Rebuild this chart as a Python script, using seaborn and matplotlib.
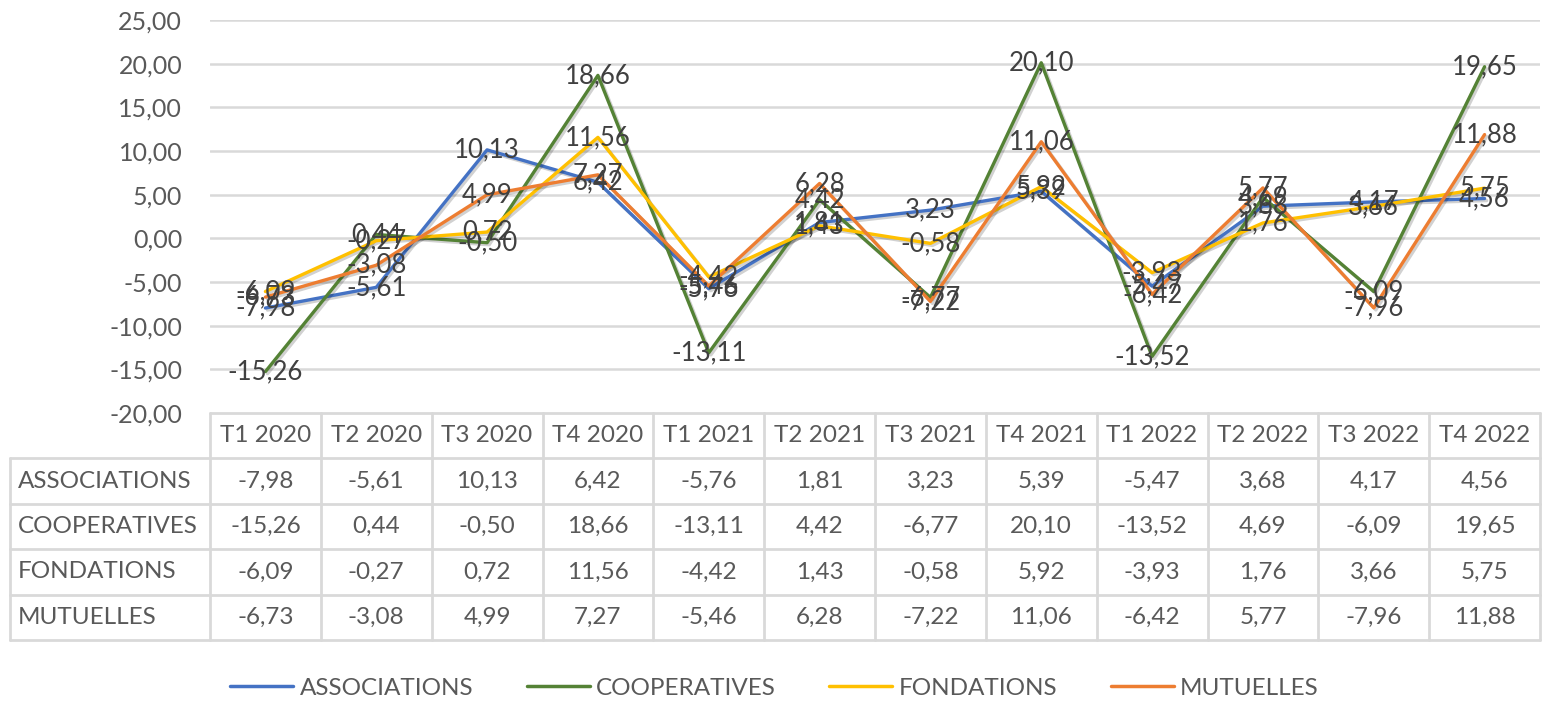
import numpy as np
import pandas as pd
import matplotlib
matplotlib.use("Agg")
import matplotlib.pyplot as plt
import matplotlib.patheffects as pe
import seaborn as sns
from matplotlib.lines import Line2D
from matplotlib.transforms import blended_transform_factory

categories = ["T1 2020", "T2 2020", "T3 2020", "T4 2020", "T1 2021", "T2 2021",
              "T3 2021", "T4 2021", "T1 2022", "T2 2022", "T3 2022", "T4 2022"]
associations = [-7.98, -5.61, 10.13, 6.42, -5.76, 1.81, 3.23, 5.39, -5.47, 3.68, 4.17, 4.56]
cooperatives = [-15.26, 0.44, -0.50, 18.66, -13.11, 4.42, -6.77, 20.10, -13.52, 4.69, -6.09, 19.65]
fondations = [-6.09, -0.27, 0.72, 11.56, -4.42, 1.43, -0.58, 5.92, -3.93, 1.76, 3.66, 5.75]
mutuelles = [-6.73, -3.08, 4.99, 7.27, -5.46, 6.28, -7.22, 11.06, -6.42, 5.77, -7.96, 11.88]
series_names = ["ASSOCIATIONS", "COOPERATIVES", "FONDATIONS", "MUTUELLES"]
y_ticks = [-20, -15, -10, -5, 0, 5, 10, 15, 20, 25]

series_values = [associations, cooperatives, fondations, mutuelles]
colors = {"ASSOCIATIONS": "#4472C4", "COOPERATIVES": "#548235",
          "FONDATIONS": "#FFC000", "MUTUELLES": "#ED7D31"}

rows = []
for name, vals in zip(series_names, series_values):
    for i, (c, v) in enumerate(zip(categories, vals)):
        rows.append({"idx": i, "trimestre": c, "serie": name, "valeur": v})
df = pd.DataFrame(rows)

def fmt(v):
    return f"{v:.2f}".replace(".", ",")

sns.set_style("white")
plt.rcParams["font.family"] = ["Lato", "DejaVu Sans"]
TXT = "#595959"
GRID = "#d9d9d9"

W, H = 1555, 701
fig = plt.figure(figsize=(W / 100, H / 100), dpi=100)

L, R = 210 / W, 1540 / W
ax = fig.add_axes([L, 1 - 413 / H, R - L, (413 - 20) / H])
tax = fig.add_axes([L, 1 - 640 / H, R - L, (640 - 413) / H])

sns.lineplot(data=df, x="idx", y="valeur", hue="serie", palette=colors,
             hue_order=series_names, sort=False, linewidth=2.4, ax=ax, legend=False)
for ln in ax.get_lines():
    ln.set_path_effects([pe.SimpleLineShadow(offset=(1.5, -1.5), alpha=0.18, shadow_color="black"),
                         pe.Normal()])

ax.set_xlim(-0.5, len(categories) - 0.5)
ax.set_ylim(-20, 25)
ax.set_yticks(y_ticks)
ax.set_yticklabels([fmt(t) for t in y_ticks], color=TXT, fontsize=18)
ax.set_xticks([])
ax.set_xlabel("")
ax.set_ylabel("")
ax.tick_params(axis="y", length=0, pad=20)
for t in y_ticks[1:]:
    ax.axhline(t, color=GRID, lw=1.8, zorder=0)
for s in ax.spines.values():
    s.set_visible(False)

for name, vals in zip(series_names, series_values):
    for i, v in enumerate(vals):
        ax.text(i, v, fmt(v), ha="center", va="center", fontsize=18.5, color="#404040", zorder=5)

# data table
nrows = len(series_names) + 1
tax.set_xlim(-0.5, len(categories) - 0.5)
tax.set_ylim(nrows, 0)
tax.axis("off")
left_frac = (10 - 210) / (1540 - 210)
lab_frac = (18 - 210) / (1540 - 210)
btr = blended_transform_factory(tax.transAxes, tax.transData)

lk = dict(color=GRID, lw=2, clip_on=False)
tax.plot([0, 1], [0, 0], transform=btr, **lk)
for r in range(1, nrows + 1):
    tax.plot([left_frac, 1], [r, r], transform=btr, **lk)
for k in range(len(categories) + 1):
    tax.plot([k - 0.5, k - 0.5], [0, nrows], **lk)
tax.plot([left_frac, left_frac], [1, nrows], transform=btr, **lk)

for i, c in enumerate(categories):
    tax.text(i, 0.5, c, ha="center", va="center", fontsize=17.5, color=TXT)
for r, (name, vals) in enumerate(zip(series_names, series_values), start=1):
    tax.text(lab_frac, r + 0.5, name, ha="left", va="center", fontsize=17.5,
             color=TXT, transform=btr)
    for i, v in enumerate(vals):
        tax.text(i, r + 0.5, fmt(v), ha="center", va="center", fontsize=17.5, color=TXT)

handles = [Line2D([0], [0], color=colors[n], lw=2.5) for n in series_names]
leg = fig.legend(handles, series_names, loc="center", bbox_to_anchor=(0.498, 1 - 688 / H),
                 ncol=4, frameon=False, fontsize=17.5, handlelength=2.6,
                 columnspacing=2.2, handletextpad=0.25)
for t in leg.get_texts():
    t.set_color(TXT)

fig.savefig("out.png", dpi=100, facecolor="white")
